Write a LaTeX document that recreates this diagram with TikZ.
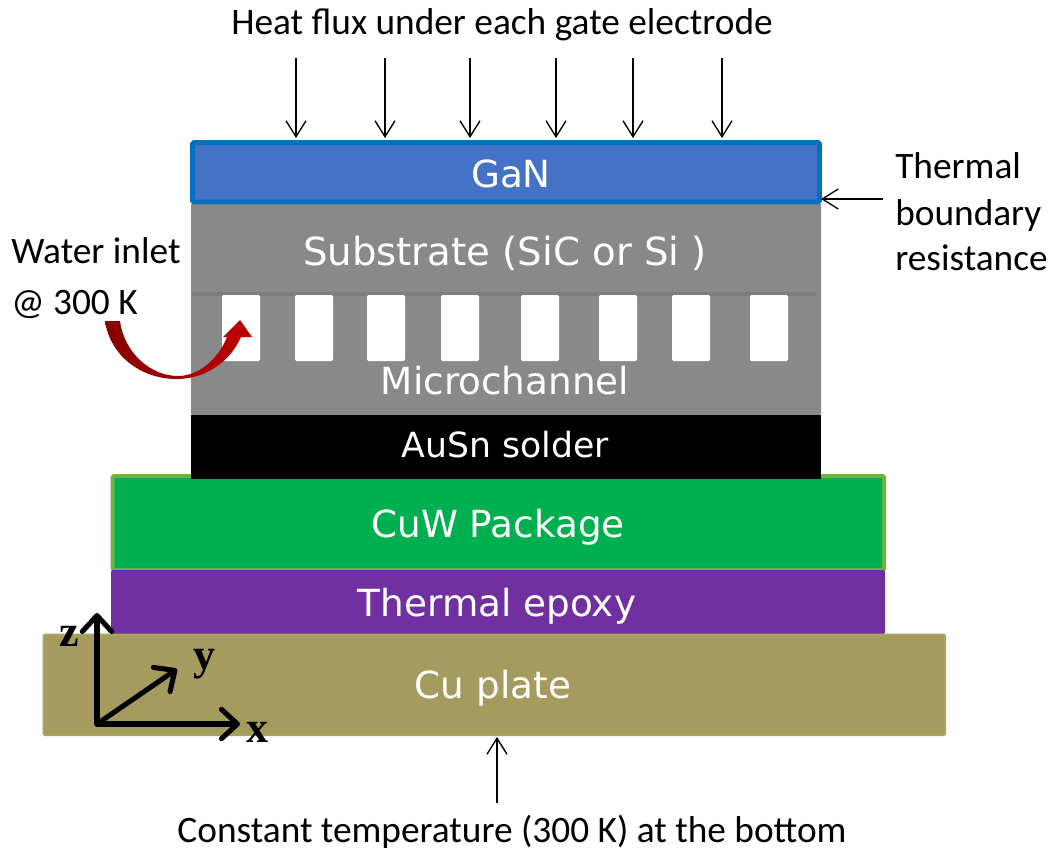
\documentclass[tikz,border=0pt]{standalone}
\usepackage{fontspec}
\setmainfont{Carlito}
\newfontfamily\lblfont{DejaVu Sans}
\newfontfamily\axfont{Liberation Serif}[Scale=1]
\usetikzlibrary{arrows.meta}
\definecolor{ganfill}{HTML}{4472C4}
\definecolor{ganedge}{HTML}{0070C0}
\definecolor{subfill}{HTML}{898989}
\definecolor{subline}{HTML}{7E7E7E}
\definecolor{cuwfill}{HTML}{00B050}
\definecolor{cuwedge}{HTML}{6FB33F}
\definecolor{epoxyfill}{HTML}{7030A0}
\definecolor{cufill}{HTML}{A59B5F}
\definecolor{cuedge}{HTML}{ABA35C}
\definecolor{reddark}{HTML}{860000}
\definecolor{redlight}{HTML}{C00000}
\tikzset{
  x=0.75pt,y=-0.75pt,
  layer/.style={inner sep=0pt,outer sep=0pt,rounded corners=1pt},
  chan/.style={fill=white,rounded corners=1pt,inner sep=0pt,outer sep=0pt,minimum width=28.5pt,minimum height=49.5pt},
  onlayer/.style={text=white,inner sep=0pt,font=\lblfont\fontsize{28}{30}\selectfont},
  onlayerwide/.style={text=white,inner sep=0pt,font=\lblfont\fontsize{29}{30}\selectfont},
  onlayersmall/.style={text=white,inner sep=0pt,font=\lblfont\fontsize{26}{28}\selectfont},
  plain/.style={text=black,inner sep=0pt,font=\fontsize{28}{30}\selectfont},
  thin arrow/.style={draw=black,line width=1pt,-{Straight Barb[length=12pt,width=15pt,line width=1pt]}},
  axis arrow/.style={draw=black,line width=3.8pt,line cap=round,-{Straight Barb[length=12pt,width=22pt,line width=3.8pt,round]}},
  axlabel/.style={text=black,inner sep=0pt,font=\axfont\bfseries\fontsize{33}{34}\selectfont},
}
\begin{document}
\begin{tikzpicture}
\useasboundingbox (0,0) rectangle (1055,852);
% layers
\fill[subfill,layer] (191,203) rectangle (821,415);
\draw[subline,line width=2.4pt] (192,294) -- (816,294);
\foreach \cx in {241,314,386,460,540,618,691,769}
  \node[chan] at (\cx,328) {};
\filldraw[fill=cuwfill,draw=cuwedge,line width=3pt,layer] (112.5,476) rectangle (884,570);
\fill[black] (191,415) rectangle (821,479);
\filldraw[fill=ganfill,draw=ganedge,line width=3.4pt,layer] (192.5,142.5) rectangle (819.5,202);
\fill[epoxyfill,layer] (111,570) rectangle (885,634);
\filldraw[fill=cufill,draw=cuedge,line width=1.5pt,layer] (43.5,634.5) rectangle (945,735);
% layer labels
\node[onlayer] (gan) at (511,174) {GaN};
\node[onlayerwide] (sub) at (505,253) {Substrate (SiC or Si )};
\node[onlayer] (mc) at (505,381) {Microchannel};
\node[onlayersmall] (au) at (505,445) {AuSn solder};
\node[onlayer] (cuw) at (498,527) {CuW Package};
\node[onlayer] (ep) at (497,606) {Thermal epoxy};
\node[onlayer] (cu) at (493,688) {Cu plate};
% red arrow
\shade[left color=reddark,right color=redlight,shading angle=90]
  (105,321) -- (120,321)
  .. controls (124,352) and (150,376) .. (178,376)
  .. controls (198,376) and (218,360) .. (227,337)
  -- (223,337) -- (240,320) -- (252,337) -- (241,337)
  .. controls (230,362) and (205,379) .. (177,379)
  .. controls (140,379) and (110,355) .. (105,321) -- cycle;
% plain text
\node[plain] (heat) at (502,25) {Heat flux under each gate electrode};
\node[plain] (bot) at (512,832) {Constant temperature (300 K) at the bottom};
\node[plain,anchor=west] (w1) at (11,251) {Water inlet};
\node[plain,anchor=west] (w2) at (11,304) {@ 300 K};
\node[plain,anchor=west] (t1) at (895,166) {Thermal};
\node[plain,anchor=west] (t2) at (895,216) {boundary};
\node[plain,anchor=west] (t3) at (895,258) {resistance};
% heat arrows
\foreach \i/\hx in {1/296,2/385,3/470,4/556,5/633,6/722}{
  \coordinate (hs\i) at (\hx,58);
  \coordinate (he\i) at (\hx,138);
  \draw[thin arrow] (hs\i) -- (he\i);
}
\coordinate (tbrs) at (883,199);
\coordinate (tbre) at (821,199);
\draw[thin arrow] (tbrs) -- (tbre);
\coordinate (bots) at (497,803);
\coordinate (bote) at (497,737);
\draw[thin arrow,line width=1.4pt] (bots) -- (bote);
% axes
\coordinate (o) at (97,724);
\coordinate (zt) at (97,613);
\coordinate (xt) at (240,724);
\coordinate (yt) at (177,669);
\draw[axis arrow] (o) -- (zt);
\draw[axis arrow] (o) -- (xt);
\draw[axis arrow] (o) -- (yt);
\node[axlabel] (zl) at (69,636) {z};
\node[axlabel] (yl) at (204,664) {y};
\node[axlabel] (xl) at (257,732) {x};
\end{tikzpicture}
\end{document}
